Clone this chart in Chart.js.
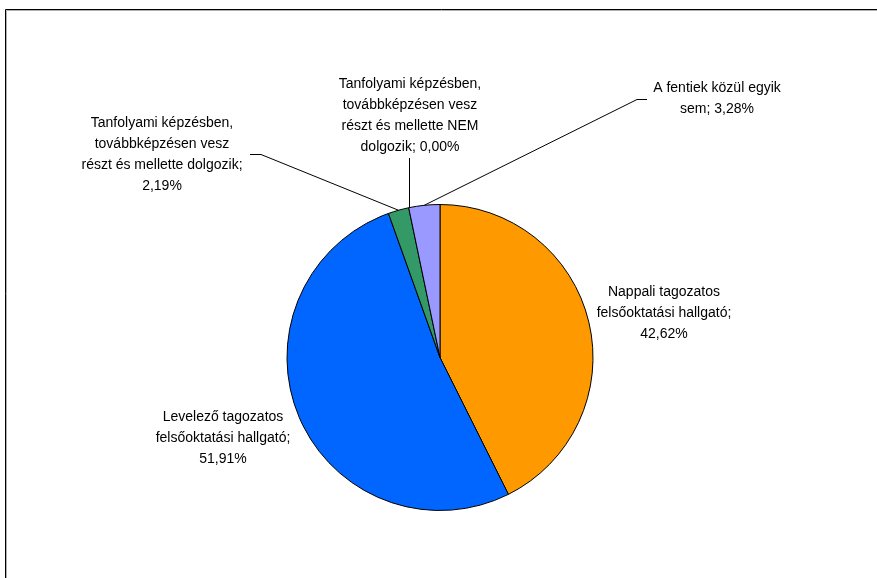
<!DOCTYPE html>
<html>
<head>
<meta charset="utf-8">
<script src="https://cdn.jsdelivr.net/npm/chart.js@4.4.0/dist/chart.umd.min.js"></script>
<style>
  html, body { margin: 0; padding: 0; background: #ffffff; }
  #wrap { position: relative; width: 877px; height: 578px; }
</style>
</head>
<body>
<div id="wrap"><canvas id="c" width="877" height="578"></canvas></div>
<script>
const categories = [
  "Nappali tagozatos felsőoktatási hallgató",
  "Levelező tagozatos felsőoktatási hallgató",
  "Tanfolyami képzésben, továbbképzésen vesz részt és mellette dolgozik",
  "Tanfolyami képzésben, továbbképzésen vesz részt és mellette NEM dolgozik",
  "A fentiek közül egyik sem"
];
const values = [42.62, 51.91, 2.19, 0.00, 3.28];
const labelLines = [
  ["Nappali tagozatos", "felsőoktatási hallgató;", "42,62%"],
  ["Levelező tagozatos", "felsőoktatási hallgató;", "51,91%"],
  ["Tanfolyami képzésben,", "továbbképzésen vesz", "részt és mellette dolgozik;", "2,19%"],
  ["Tanfolyami képzésben,", "továbbképzésen vesz", "részt és mellette NEM", "dolgozik; 0,00%"],
  ["A fentiek közül egyik", "sem; 3,28%"]
];
const colors = ["#FF9900", "#0066FF", "#339966", "#CCCCFF", "#9999FF"];

// layout of the label blocks (center x, first line center y)
const labelPos = [
  {x: 664, y: 292},
  {x: 223, y: 417},
  {x: 162, y: 123.5},
  {x: 410, y: 84.5},
  {x: 717, y: 88}
];

const framePlugin = {
  id: 'frame',
  beforeDraw(chart) {
    const ctx = chart.ctx;
    ctx.save();
    ctx.fillStyle = '#ffffff';
    ctx.fillRect(0, 0, chart.width, chart.height);
    ctx.strokeStyle = '#000000';
    ctx.lineWidth = 1;
    ctx.beginPath();
    ctx.moveTo(5.5, chart.height);
    ctx.lineTo(5.5, 9.5);
    ctx.lineTo(chart.width, 9.5);
    ctx.stroke();
    ctx.strokeStyle = '#b0b0b0';
    ctx.beginPath();
    ctx.moveTo(6.5, chart.height);
    ctx.lineTo(6.5, 10.5);
    ctx.lineTo(chart.width, 10.5);
    ctx.stroke();
    ctx.restore();
  }
};

const labelPlugin = {
  id: 'pieLabels',
  afterDatasetsDraw(chart) {
    const ctx = chart.ctx;
    const meta = chart.getDatasetMeta(0);
    ctx.save();
    ctx.font = '14px "Liberation Sans", Arial, sans-serif';
    ctx.fillStyle = '#000000';
    ctx.textAlign = 'center';
    ctx.textBaseline = 'middle';
    const lh = 21;
    labelLines.forEach((lines, i) => {
      const p = labelPos[i];
      lines.forEach((t, j) => ctx.fillText(t, p.x, p.y + j * lh));
    });
    // leader lines
    const edge = (arc, angle) => ({
      x: arc.x + Math.cos(angle) * arc.outerRadius,
      y: arc.y + Math.sin(angle) * arc.outerRadius
    });
    ctx.strokeStyle = '#000000';
    ctx.lineWidth = 1;
    // green slice
    let a = meta.data[2];
    let e = edge(a, (a.startAngle + a.endAngle) / 2);
    ctx.beginPath();
    ctx.moveTo(250, 154.5);
    ctx.lineTo(261, 154.5);
    ctx.lineTo(e.x, e.y);
    ctx.stroke();
    // zero slice
    a = meta.data[3];
    e = edge(a, a.startAngle);
    ctx.beginPath();
    ctx.moveTo(Math.round(e.x) + 0.5, 158);
    ctx.lineTo(Math.round(e.x) + 0.5, e.y);
    ctx.stroke();
    // lavender slice
    a = meta.data[4];
    e = edge(a, (a.startAngle + a.endAngle) / 2);
    ctx.beginPath();
    ctx.moveTo(647, 99.5);
    ctx.lineTo(637, 99.5);
    ctx.lineTo(e.x, e.y);
    ctx.stroke();
    ctx.restore();
  }
};

new Chart(document.getElementById('c'), {
  type: 'pie',
  data: {
    labels: categories,
    datasets: [{
      data: values,
      backgroundColor: colors,
      borderColor: '#000000',
      borderWidth: 1,
      borderJoinStyle: 'miter'
    }]
  },
  options: {
    responsive: false,
    animation: false,
    radius: 153,
    layout: { padding: { left: 3, right: 0, top: 137, bottom: 0 } },
    plugins: {
      legend: { display: false },
      tooltip: { enabled: false },
      title: { display: false }
    }
  },
  plugins: [framePlugin, labelPlugin]
});
</script>
</body>
</html>
